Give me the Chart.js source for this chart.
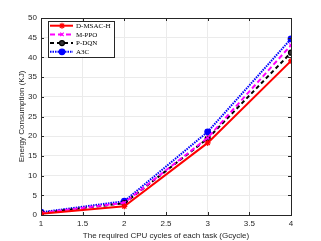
<!DOCTYPE html>
<html>
<head>
<meta charset="utf-8">
<script src="https://cdn.jsdelivr.net/npm/chart.js@4"></script>
<style>
  html, body { margin: 0; padding: 0; background: #fff; }
  #wrap { width: 321px; height: 241px; }
</style>
</head>
<body>
<div id="wrap"><canvas id="myChart" width="321" height="241"></canvas></div>
<script>
const cycles = [1, 2, 3, 4];
const dmsac = [0.3, 2.2, 18.3, 39.1];
const mppo = [0.5, 3.1, 19.6, 43.1];
const pdqn = [0.5, 3.0, 19.4, 41.2];
const a3c = [0.7, 3.5, 21.1, 44.7];
const xTicks = [1, 1.5, 2, 2.5, 3, 3.5, 4];
const yTicks = [0, 5, 10, 15, 20, 25, 30, 35, 40, 45, 50];

function pts(arr) {
    return cycles.map((c, i) => ({ x: c, y: arr[i] }));
}

const series = [
    { label: 'D-MSAC-H', data: dmsac, color: '#ff0000', dash: [], style: 'star', fill: '#ff0000', r: 3 },
    { label: 'M-PPO', data: mppo, color: '#ff00ff', dash: [5, 3], style: 'crossRot', fill: '#ff00ff', r: 2.5 },
    { label: 'P-DQN', data: pdqn, color: '#000000', dash: [4, 3], style: 'circle', fill: '#333333', r: 2.5 },
    { label: 'A3C', data: a3c, color: '#0000ff', dash: [1.5, 1], style: 'circle', fill: '#0000ff', r: 2.8 }
];

// box round the plot, inward tick marks and the legend in the upper left
const framePlugin = {
    id: 'frame',
    afterDatasetsDraw(chart) {
        const ctx = chart.ctx;
        const a = chart.chartArea;
        const xs = chart.scales.x, ys = chart.scales.y;
        ctx.save();
        ctx.strokeStyle = '#262626';
        ctx.lineWidth = 1;
        ctx.strokeRect(a.left + 0.5, a.top + 0.5, a.right - a.left, a.bottom - a.top);

        ctx.beginPath();
        xTicks.forEach(v => {
            const px = Math.round(xs.getPixelForValue(v)) + 0.5;
            ctx.moveTo(px, a.bottom); ctx.lineTo(px, a.bottom - 3);
            ctx.moveTo(px, a.top); ctx.lineTo(px, a.top + 3);
        });
        yTicks.forEach(v => {
            const py = Math.round(ys.getPixelForValue(v)) + 0.5;
            ctx.moveTo(a.left, py); ctx.lineTo(a.left + 3, py);
            ctx.moveTo(a.right, py); ctx.lineTo(a.right - 3, py);
        });
        ctx.stroke();

        const bx = 48, by = 21, bw = 66, bh = 36;
        ctx.fillStyle = '#fff';
        ctx.fillRect(bx, by, bw, bh);
        ctx.strokeStyle = '#262626';
        ctx.strokeRect(bx + 0.5, by + 0.5, bw, bh);
        ctx.font = '7px "Liberation Serif"';
        ctx.textBaseline = 'middle';
        series.forEach((s, i) => {
            const y = by + 4.7 + i * 8.7;
            ctx.strokeStyle = s.color;
            ctx.lineWidth = 2;
            ctx.setLineDash(s.dash);
            ctx.beginPath();
            ctx.moveTo(bx + 2, y);
            ctx.lineTo(bx + 25, y);
            ctx.stroke();
            ctx.setLineDash([]);
            ctx.fillStyle = s.fill;
            ctx.strokeStyle = s.color;
            ctx.lineWidth = 1.2;
            Chart.helpers.drawPoint(ctx, { pointStyle: s.style, radius: s.r, rotation: 0, borderWidth: 1.2 }, bx + 14, y);
            ctx.fillStyle = '#000';
            ctx.fillText(s.label, bx + 28, y + 0.5);
        });
        ctx.restore();
    }
};

const tickFmt = v => String(v);

const ctx = document.getElementById('myChart').getContext('2d');
const myChart = new Chart(ctx, {
    type: 'line',
    data: {
        datasets: series.map(s => ({
            label: s.label,
            data: pts(s.data),
            borderColor: s.color,
            backgroundColor: s.fill,
            borderWidth: 2,
            borderDash: s.dash,
            pointStyle: s.style,
            pointRadius: s.r,
            pointBorderColor: s.color,
            pointBackgroundColor: s.fill,
            pointBorderWidth: 1.2,
            tension: 0,
            fill: false
        }))
    },
    options: {
        responsive: false,
        animation: false,
        layout: { padding: { top: 18, right: 30, left: 0, bottom: 0 } },
        scales: {
            x: {
                type: 'linear',
                min: 1,
                max: 4,
                afterBuildTicks(axis) { axis.ticks = xTicks.map(v => ({ value: v })); },
                afterFit(axis) { axis.height = 26; },
                grid: { color: '#ebebeb', drawTicks: false },
                border: { color: '#262626' },
                ticks: { color: '#262626', font: { family: 'Liberation Sans', size: 8 }, padding: 4, maxRotation: 0, callback: tickFmt },
                title: { display: true, text: 'The required CPU cycles of each task (Gcycle)', color: '#262626', font: { family: 'Liberation Sans', size: 8 }, padding: 0 }
            },
            y: {
                min: 0,
                max: 50,
                afterBuildTicks(axis) { axis.ticks = yTicks.map(v => ({ value: v })); },
                afterFit(axis) { axis.width = 41; },
                grid: { color: '#ebebeb', drawTicks: false },
                border: { color: '#262626' },
                ticks: { color: '#262626', font: { family: 'Liberation Sans', size: 8 }, padding: 4, callback: tickFmt },
                title: { display: true, text: 'Energy Consumption (KJ)', color: '#262626', font: { family: 'Liberation Sans', size: 8 }, padding: { top: 17, bottom: 0 } }
            }
        },
        plugins: {
            legend: { display: false },
            tooltip: { enabled: false }
        }
    },
    plugins: [framePlugin]
});
</script>
</body>
</html>
